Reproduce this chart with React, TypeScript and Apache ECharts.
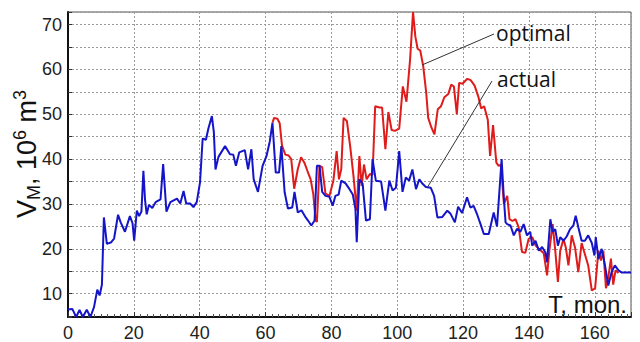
import React, { useEffect, useRef } from "react";
import * as echarts from "echarts";

// Actual reservoir volume (month, 10^6 m^3)
const actualT = [0, 1.3, 2.5, 3.5, 4.5, 5.7, 6.8, 7.9, 8.9, 9.6, 10.3, 10.9, 11.8, 13, 14, 15.2, 16, 17.3, 18.8, 19.6, 20.1, 20.9, 21.6, 22.3, 22.9, 23.4, 23.9, 24.6, 25.6, 26.6, 28.1, 28.9, 29.9, 31.1, 33.1, 34.1, 35.1, 35.9, 37.1, 38.1, 39.1, 40.1, 40.9, 41.9, 42.6, 43.7, 44.3, 44.8, 45.7, 47.7, 49.2, 50.2, 51, 52, 53.7, 54.7, 55.7, 56.4, 57.7, 59.1, 60.3, 61.3, 62.1, 63.1, 64.1, 64.8, 65.8, 66.8, 68.1, 68.8, 69.8, 70.9, 72.2, 72.9, 73.9, 74.9, 75.6, 76.4, 77.2, 78.2, 79.4, 80.4, 81.2, 82.2, 83, 84.3, 85.5, 86.5, 87.3, 87.7, 88.5, 89.5, 90.5, 91.7, 92.5, 93.5, 95.1, 96.4, 97.6, 98.6, 99.6, 100.6, 101.6, 102.6, 103.6, 104.6, 105.7, 106.7, 107.7, 108.7, 110.2, 111.2, 112.2, 113.7, 115.2, 116.2, 117.5, 118.5, 119.7, 121.2, 122.2, 123.2, 124.3, 125.3, 126.3, 127.8, 129.3, 130.3, 131.7, 132.4, 132.9, 133.4, 134.4, 135.4, 136.4, 137.4, 138.4, 139.4, 140.4, 141, 142, 143, 144, 145, 145.5, 146.5, 147.2, 148, 148.8, 149.5, 150.5, 151.5, 152.5, 153.5, 154.2, 155, 156, 157, 158, 159.1, 159.9, 160.3, 161.1, 162.1, 163.1, 164.1, 165.1, 166.1, 167.2, 168.2, 171];
const actualV = [6.5, 6.6, 4.8, 6.4, 4.8, 6.4, 4.8, 7, 10.9, 9.6, 12, 27, 21.1, 21.4, 22.3, 27.6, 25.9, 23.8, 27.3, 25.7, 21.8, 28.5, 27.3, 28.3, 37.4, 30.9, 27.7, 29.8, 29.1, 30.4, 31, 38.9, 28.3, 30.4, 31.2, 30.1, 32.9, 30.1, 30.1, 29.3, 30.4, 34.8, 44.6, 44.3, 46.7, 49.6, 46, 37.7, 40.5, 42.9, 41.1, 41, 38.5, 41.5, 42, 37.7, 42.2, 35.5, 32.7, 38.5, 40.7, 44, 48.1, 37, 37, 42.9, 32.6, 29, 29.2, 32.7, 28.1, 28.6, 27, 26.3, 25.2, 26.3, 38.5, 38.5, 32.7, 31.8, 31.6, 29.6, 31.8, 32.1, 35.2, 34.6, 33.3, 32.1, 28.9, 21.5, 35.5, 34.5, 26.3, 26.6, 40, 35.2, 35, 28.5, 35.2, 33, 33.6, 41.8, 32.7, 35.9, 35.2, 37.7, 33.3, 35.5, 34.5, 33.8, 33.6, 31.8, 27, 27.1, 28.5, 27.8, 25.9, 29.4, 28, 31.5, 29.2, 29.6, 27.6, 25.5, 23.3, 23.3, 28.1, 25, 40, 31.1, 25.9, 25.5, 25.2, 23, 24.5, 23.8, 25.5, 23, 23.8, 20.7, 21.8, 19.6, 20.4, 19.2, 17, 26.6, 23.8, 24.4, 20.7, 22.6, 21.8, 22.8, 24.4, 25.2, 27.4, 24.8, 21.8, 21.8, 23, 21.3, 18.5, 22.6, 17.7, 20, 16.3, 11.8, 14.8, 16.3, 15.2, 14.7, 14.7];

// Optimal reservoir volume (month, 10^6 m^3)
const optimalT = [62.1, 62.6, 63.6, 64.3, 65, 66, 67, 67.8, 68.7, 69.8, 70.8, 71.8, 72.7, 73.7, 74.5, 75.2, 75.6, 76.4, 77.2, 78.2, 79.4, 80.6, 81.6, 82.3, 83, 83.7, 84.7, 85.7, 86.7, 87.7, 88.5, 89.2, 89.9, 90.7, 91.7, 92.5, 93.3, 94.6, 95.4, 96.4, 97.3, 98.3, 99.3, 100.6, 101.7, 102.8, 103.9, 104.8, 105.5, 106.2, 107, 107.9, 108.8, 109.4, 110.4, 111.3, 112.3, 113.3, 114.3, 115.5, 116.4, 117.2, 118.1, 118.8, 119.8, 121.3, 122.3, 123.5, 124.6, 125.5, 126.4, 127.5, 128.2, 129.1, 130.1, 130.8, 131.5, 132.4, 133.4, 134.1, 135, 135.9, 136.9, 137.9, 138.9, 139.9, 141, 142, 143, 144.5, 145.5, 146.2, 147.2, 148, 148.8, 149.5, 150.5, 151.2, 152, 153, 154, 155, 156, 157, 158, 159.1, 160.1, 161.1, 161.9, 162.6, 163.4, 164.1, 164.9, 165.6, 166.3, 167.2];
const optimalV = [48.1, 49.2, 49, 48, 43, 41, 40.8, 40, 33.4, 37.8, 40.4, 39.2, 37.4, 35.5, 32.2, 26.3, 26, 38.5, 38.2, 32.3, 31.8, 35.2, 41.8, 35.5, 37.8, 49.2, 48.5, 42.9, 36.3, 28.5, 40.7, 34, 38.8, 35.5, 36.7, 36.5, 51.8, 51.5, 51.5, 42.2, 50.5, 46.5, 46.3, 46.8, 56.2, 52.8, 62.2, 72.8, 67.3, 64.6, 64.2, 60.7, 54.8, 49.2, 47, 45.5, 51.1, 51.8, 53.8, 54.5, 56.6, 56.2, 50, 57, 56.8, 57.9, 57.6, 56.4, 54, 51.3, 51.8, 48.8, 40.7, 47.6, 39.2, 38.5, 38.8, 30, 31.8, 26.6, 26.2, 26.6, 24.8, 19.3, 19.1, 22.2, 22.6, 20.8, 20, 19, 14.1, 19.6, 25.5, 19.6, 12.6, 19.6, 22.2, 20.3, 16.3, 23, 20.3, 14.8, 21.3, 18.8, 16.3, 10.7, 11.2, 19.6, 17.4, 19.6, 11.2, 13.6, 17.8, 12, 15.2, 14.6];

const xTicks = [0, 20, 40, 60, 80, 100, 120, 140, 160];
const yTicks = [10, 20, 30, 40, 50, 60, 70];

export default function App() {
  const ref = useRef<HTMLDivElement>(null);
  useEffect(() => {
    document.body.style.margin = "0";
    const chart = echarts.init(ref.current!, null, { renderer: "svg" });
    const actual = actualT.map((t, i) => [t, actualV[i]]);
    const optimal = optimalT.map((t, i) => [t, optimalV[i]]);
    const gridColor = "#9a9a9a";
    chart.setOption({
      animation: false,
      backgroundColor: "#ffffff",
      grid: {
        left: 68, right: 9, top: 12, bottom: 24,
        show: true, borderColor: "#555", borderWidth: 1, backgroundColor: "transparent",
      },
      xAxis: {
        type: "value", min: 0, max: 171, interval: 20,
        axisLine: { show: true, lineStyle: { color: "#111", width: 2 } },
        axisTick: { show: true, inside: true, length: 5, lineStyle: { color: "#333" } },
        minorTick: { show: true, splitNumber: 10, length: 3, lineStyle: { color: "#555" } },
        splitLine: { show: true, lineStyle: { color: gridColor, type: [2, 2], width: 1 } },
        axisLabel: {
          fontFamily: "Liberation Sans, Arial", fontSize: 18, color: "#222", margin: 7,
          formatter: (v: number) => (xTicks.includes(v) ? String(v) : ""),
        },
      },
      yAxis: {
        type: "value", min: 4.8, max: 72.8, minInterval: 5, maxInterval: 5, splitNumber: 13,
        axisLine: { show: true, lineStyle: { color: "#111", width: 2 } },
        axisTick: { show: true, inside: true, length: 4, lineStyle: { color: "#333" } },
        splitLine: { show: true, lineStyle: { color: gridColor, type: [2, 2], width: 1 } },
        axisLabel: {
          fontFamily: "Liberation Sans, Arial", fontSize: 18, color: "#222", margin: 6,
          formatter: (v: number) => (yTicks.includes(v) ? String(v) : ""),
        },
      },
      series: [
        {
          type: "line", data: optimal, showSymbol: false, symbol: "none",
          lineStyle: { color: "#e01b1b", width: 2 }, z: 2,
        },
        {
          type: "line", data: actual, showSymbol: false, symbol: "none",
          lineStyle: { color: "#1515c8", width: 2 }, z: 3,
        },
      ],
      graphic: [
        { type: "line", shape: { x1: 494, y1: 34, x2: 422, y2: 65 }, style: { stroke: "#333", lineWidth: 1 }, z: 10 },
        { type: "line", shape: { x1: 492, y1: 81, x2: 427, y2: 188 }, style: { stroke: "#333", lineWidth: 1 }, z: 10 },
        {
          type: "text", x: 496, y: 33, z: 10,
          style: { text: "optimal", fontFamily: "Open Sans", fontSize: 21, fill: "#111", align: "left", verticalAlign: "middle" },
        },
        {
          type: "text", x: 497, y: 79, z: 10,
          style: { text: "actual", fontFamily: "Open Sans", fontSize: 21, fill: "#111", align: "left", verticalAlign: "middle" },
        },
        {
          type: "text", x: 627, y: 304.5, z: 10,
          style: { text: "T, mon.", fontFamily: "Liberation Sans, Arial", fontSize: 24, fill: "#111", align: "right", verticalAlign: "middle" },
        },
        {
          type: "text", x: 27, y: 154, rotation: Math.PI / 2, z: 10,
          style: {
            text: "{v|V}{sub|M}{v|, 10}{sup|6}{v| m}{sup|3}",
            align: "center", verticalAlign: "middle", fill: "#111",
            rich: {
              v: { fontFamily: "Liberation Sans, Arial", fontSize: 27, lineHeight: 32, fill: "#111" },
              sub: { fontFamily: "Liberation Sans, Arial", fontSize: 18, lineHeight: 17, verticalAlign: "bottom", fill: "#111" },
              sup: { fontFamily: "Liberation Sans, Arial", fontSize: 18, lineHeight: 17, verticalAlign: "top", fill: "#111" },
            },
          },
        },
      ],
    });
    return () => chart.dispose();
  }, []);
  return <div ref={ref} style={{ width: 640, height: 342 }} />;
}
